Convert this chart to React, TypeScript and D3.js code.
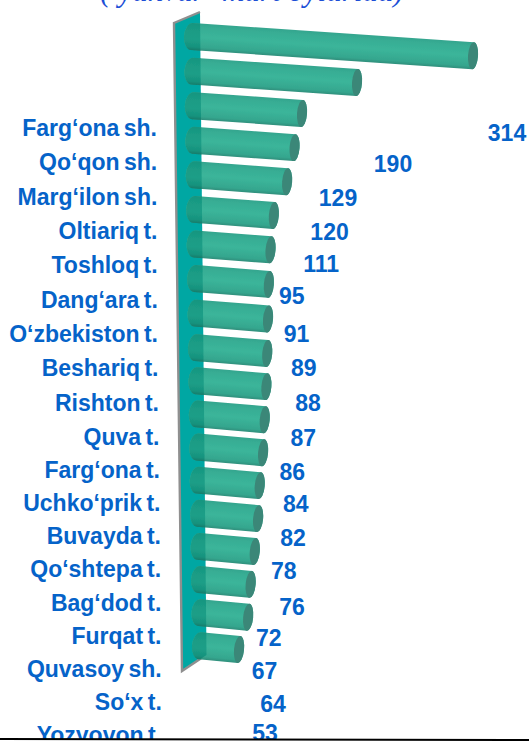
import * as d3 from "d3";
import {useEffect, useRef} from "react";

const categories = [
    "Farg‘ona sh.", "Qo‘qon sh.", "Marg‘ilon sh.", "Oltiariq t.", "Toshloq t.",
    "Dang‘ara t.", "O‘zbekiston t.", "Beshariq t.", "Rishton t.", "Quva t.",
    "Farg‘ona t.", "Uchko‘prik t.", "Buvayda t.", "Qo‘shtepa t.", "Bag‘dod t.",
    "Furqat t.", "Quvasoy sh.", "So‘x t.", "Yozyovon t."
];
const values = [314, 190, 129, 120, 111, 95, 91, 89, 88, 87, 86, 84, 82, 78, 76, 72, 67, 64, 53];
const title = "( yanvar- mart oylarida)";

// the value labels were placed by hand in the original, so they wander around the bar ends
const labelDx = [29, 31, 31, 30, 29, 13, 21, 30, 35, 31, 21, 26, 25, 19, 29, 9, 9, 20, 21];
const labelDy = [5, 2, 1, 1, -1, -4, 0, 0, 0, 1, 2, 1, 2, 2, 4, 2, 2, 2, -2];

const WIDTH = 529;
const HEIGHT = 742;
const BLUE = "#0563c9";

export default function App() {
    const ref = useRef<SVGSVGElement>(null);

    useEffect(() => {
        const svg = d3.select(ref.current);
        svg.selectAll("*").remove();

        const idx = categories.map((_, i) => i);

        // perspective: rows get a little tighter going down
        const barY = d3.scaleLinear().domain([0, 9, 18]).range([36, 347, 645]);
        const rowY = d3.scaleLinear().domain([0, 9, 18]).range([128, 437, 735]);
        const barX0 = d3.scaleLinear().domain([0, 18]).range([184, 192]);
        const barAngle = d3.scaleLinear().domain([0, 18]).range([3.9, 5.5]);
        const labelX = d3.scaleLinear().domain([0, 6, 12, 18]).range([157, 158, 161, 162]);
        // end of the bar in screen x
        const x = d3.scaleLinear().domain([53, 129, 190, 314]).range([244, 307, 362, 478]);

        const defs = svg.append("defs");

        const gradient = (id: string, stops: [number, string][]) => {
            const g = defs.append("linearGradient").attr("id", id)
                .attr("x1", 0).attr("y1", 0).attr("x2", 0).attr("y2", 1);
            stops.forEach(([o, c]) => g.append("stop").attr("offset", o).attr("stop-color", c));
        };
        gradient("barBody", [[0, "#35a58e"], [0.15, "#37ad94"], [0.5, "#3bb59a"], [0.88, "#35a68e"], [1, "#2f8f7c"]]);
        gradient("barInWall", [[0, "#17957f"], [0.3, "#1a9c85"], [0.6, "#1c9e87"], [0.88, "#17927d"], [1, "#137c6a"]]);

        const wallPts: [number, number][] = [[174, 23], [200, 12], [206.5, 655], [182, 671]];
        const wallPath = d3.line()(wallPts) + "Z";

        defs.append("clipPath").attr("id", "wallClip").append("path").attr("d", wallPath);
        defs.append("filter").attr("id", "soft")
            .append("feGaussianBlur").attr("stdDeviation", 0.5);

        svg.append("text")
            .attr("x", 252).attr("y", 1)
            .attr("text-anchor", "middle")
            .attr("font-family", "'Liberation Serif', serif")
            .attr("font-style", "italic")
            .attr("font-size", 31)
            .attr("fill", "#1d4fd6")
            .text(title);

        // wall
        svg.append("path").attr("d", wallPath).attr("fill", "#00a7a3");
        svg.append("path")
            .attr("d", d3.line()([[200, 12], [174, 23], [182, 671], [206, 655]]))
            .attr("fill", "none")
            .attr("stroke", "#8f8f8f")
            .attr("stroke-width", 2.4);

        const barH = 27;
        const capL = 8;
        const capR = 5;

        // d3.path has no ellipse, so the rounded ends are plain arc commands
        const bodyPath = (len: number) => {
            const r = barH / 2;
            return `M${capL},${-r}L${len},${-r}A${capR},${r} 0 0 1 ${len},${r}L${capL},${r}A${capL},${r} 0 0 1 ${capL},${-r}Z`;
        };

        const drawBars = (parent: any, fill: string, withCap: boolean) => {
            const bars = parent.selectAll("g.bar").data(idx).enter().append("g")
                .attr("class", "bar")
                .attr("transform", (i: number) => `translate(${barX0(i)},${barY(i)}) rotate(${barAngle(i)})`);

            const barLen = (i: number) =>
                (x(values[i]) - barX0(i)) / Math.cos(barAngle(i) * Math.PI / 180) - capR;

            bars.append("path")
                .attr("d", (i: number) => bodyPath(barLen(i)))
                .attr("fill", fill);

            if (withCap) {
                bars.append("ellipse")
                    .attr("cx", (i: number) => barLen(i))
                    .attr("cy", 0)
                    .attr("rx", capR)
                    .attr("ry", barH / 2)
                    .attr("fill", "#3b8778");
            }
        };

        drawBars(svg.append("g").attr("filter", "url(#soft)"), "url(#barBody)", true);
        drawBars(
            svg.append("g").attr("clip-path", "url(#wallClip)").append("g").attr("filter", "url(#soft)"),
            "url(#barInWall)",
            false
        );

        const font = "'Liberation Sans', Arial, sans-serif";

        svg.append("g").selectAll("text").data(idx).enter().append("text")
            .attr("x", i => labelX(i))
            .attr("y", i => rowY(i))
            .attr("dy", "0.35em")
            .attr("text-anchor", "end")
            .attr("font-family", font)
            .attr("font-weight", "bold")
            .attr("font-size", 23)
            .attr("word-spacing", -2)
            .attr("fill", BLUE)
            .text(i => categories[i]);

        svg.append("g").selectAll("text").data(idx).enter().append("text")
            .attr("x", i => x(values[i]) + labelDx[i])
            .attr("y", i => rowY(i) + labelDy[i])
            .attr("dy", "0.35em")
            .attr("text-anchor", "middle")
            .attr("font-family", font)
            .attr("font-weight", "bold")
            .attr("font-size", 23)
            .attr("fill", BLUE)
            .text(i => values[i]);

        // bottom rule cuts the last row
        svg.append("rect").attr("x", 0).attr("y", 739).attr("width", WIDTH).attr("height", 3).attr("fill", "#fff");
        svg.append("line")
            .attr("x1", 0).attr("y1", 739)
            .attr("x2", WIDTH).attr("y2", 740)
            .attr("stroke", "#000")
            .attr("stroke-width", 2);
    }, []);

    return (
        <svg
            ref={ref}
            width={WIDTH}
            height={HEIGHT}
            style={{position: "absolute", left: 0, top: 0, background: "#fff"}}
        />
    );
}
